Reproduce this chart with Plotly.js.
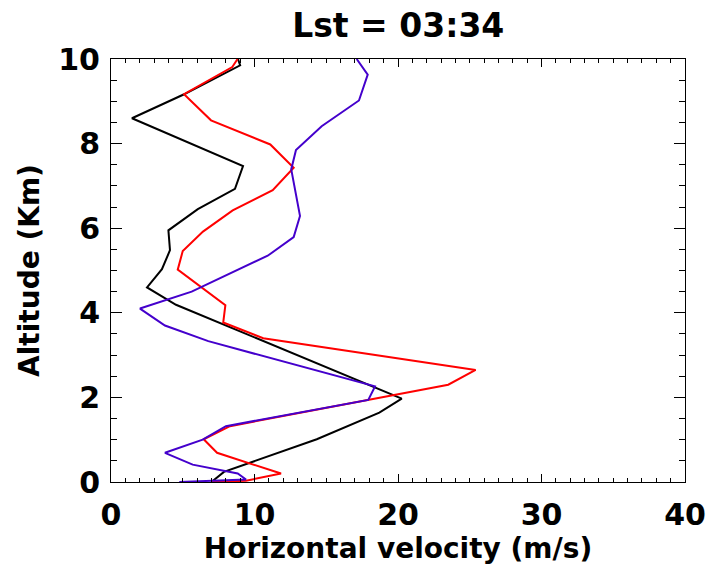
<!DOCTYPE html>
<html>
<head>
<meta charset="utf-8">
<script src="https://cdn.plot.ly/plotly-3.0.1.min.js"></script>
<style>html,body{margin:0;padding:0;background:#fff;}#chart{width:708px;height:567px;}</style>
</head>
<body>
<div id="chart"></div>
<script>
// Altitude (km) and horizontal velocity (m/s)
var blackAlt = [10.0, 9.85, 9.16, 8.60, 7.47, 6.93, 6.45, 5.95, 5.48, 5.03, 4.60, 4.19, 1.97, 1.64, 1.01, 0.24, 0.0];
var blackVel = [8.85, 9.0, 5.06, 1.46, 9.2, 8.64, 6.05, 4.0, 4.11, 3.55, 2.51, 4.53, 20.26, 18.7, 14.34, 7.87, 7.0];

var redAlt = [10.0, 9.81, 9.17, 8.55, 7.98, 7.43, 6.90, 6.42, 5.92, 5.46, 5.02, 4.18, 3.77, 3.40, 2.65, 2.30, 1.32, 1.01, 0.69, 0.20, 0.03, 0.0];
var redVel = [8.82, 8.45, 5.09, 6.97, 11.1, 12.73, 11.27, 8.48, 6.41, 5.0, 4.65, 7.97, 7.82, 10.61, 25.41, 23.5, 8.29, 6.46, 7.39, 11.85, 9.41, 6.97];

var blueAlt = [10.0, 9.63, 9.02, 8.41, 7.85, 7.39, 6.29, 5.79, 5.35, 4.50, 4.10, 3.70, 3.33, 2.26, 1.94, 1.32, 1.0, 0.69, 0.41, 0.20, 0.06, 0.0];
var blueVel = [17.12, 17.89, 17.28, 14.68, 12.89, 12.56, 13.17, 12.73, 10.92, 5.62, 2.02, 3.76, 6.78, 18.4, 17.93, 8.01, 6.39, 3.76, 5.69, 8.83, 9.41, 4.76];

var titleText = 'Lst = 03:34';
var xTitle = 'Horizontal velocity (m/s)';
var yTitle = 'Altitude (Km)';
var xTicks = [0, 10, 20, 30, 40];
var yTicks = [0, 2, 4, 6, 8, 10];

var FONT = 'DejaVu Sans, Liberation Sans, Arial, sans-serif';

function tr(x, y, c) {
  return {x: x, y: y, type: 'scatter', mode: 'lines', line: {color: c, width: 2}, showlegend: false, hoverinfo: 'skip'};
}
var data = [tr(blackVel, blackAlt, '#000000'), tr(redVel, redAlt, '#ff0000'), tr(blueVel, blueAlt, '#4400cc')];

var axisCommon = {
  showgrid: false, zeroline: false, showline: true, linecolor: '#000', linewidth: 1,
  mirror: 'allticks', ticks: 'inside', tickcolor: '#000', tickwidth: 1,
  tickfont: {family: FONT, size: 30, color: '#000', weight: 'bold'}
};

var layout = {
  width: 708, height: 567,
  margin: {l: 111, r: 23, t: 59, b: 85},
  paper_bgcolor: '#fff', plot_bgcolor: '#fff',
  title: {text: titleText, font: {family: FONT, size: 33, color: '#000', weight: 'bold'}, x: 0.5625, xanchor: 'center', y: 0.955, yanchor: 'middle'},
  xaxis: Object.assign({}, axisCommon, {
    range: [0, 40], tickvals: xTicks, ticktext: xTicks.map(String), ticklen: 8,
    minor: {dtick: 1, tick0: 0, ticks: 'inside', ticklen: 4, tickcolor: '#000', tickwidth: 1, showgrid: false},
    ticklabelstandoff: 6,
    title: {text: xTitle, font: {family: FONT, size: 28, color: '#000', weight: 'bold'}, standoff: 2}
  }),
  yaxis: Object.assign({}, axisCommon, {
    range: [0, 10], tickvals: yTicks, ticktext: yTicks.map(String), ticklen: 11,
    minor: {dtick: 0.5, tick0: 0, ticks: 'inside', ticklen: 6, tickcolor: '#000', tickwidth: 1, showgrid: false},
    ticklabelstandoff: 4,
    title: {text: yTitle, font: {family: FONT, size: 28, color: '#000', weight: 'bold'}, standoff: 10}
  })
};

Plotly.newPlot('chart', data, layout, {staticPlot: true, displayModeBar: false});
</script>
</body>
</html>
